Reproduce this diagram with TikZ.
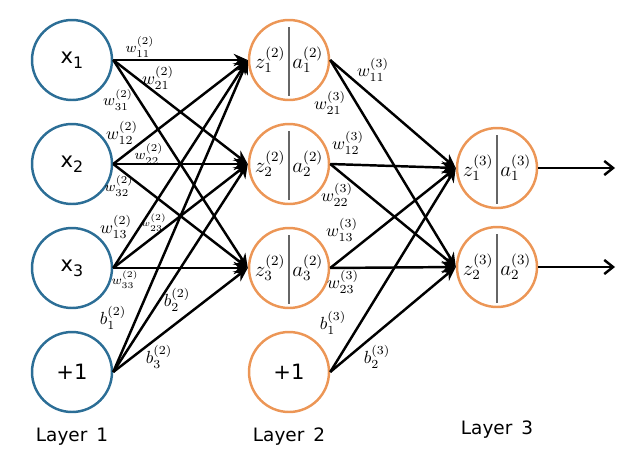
\documentclass[tikz,border=0pt]{standalone}
\usepackage{fontspec}
\setmainfont{DejaVu Sans}
\usetikzlibrary{arrows.meta,calc}

\definecolor{inblue}{RGB}{44,110,150}
\definecolor{hidorange}{RGB}{236,150,86}
\newcommand{\lowsub}[1]{\raisebox{-0.45ex}{\small #1}}

\begin{document}
\begin{tikzpicture}[
  x=0.02cm, y=-0.02cm,
  >={Stealth[length=8pt,width=7pt]},
  unit/.style={draw, circle, line width=1.4pt, minimum size=1.6cm, inner sep=0pt, font=\large},
  inunit/.style={unit, draw=inblue},
  hidunit/.style={unit, draw=hidorange},
  wire/.style={->, line width=1.4pt},
  outwire/.style={-{Straight Barb[length=5pt,width=8pt]}, line width=1.4pt},
  divider/.style={draw=black!60, line width=0.9pt},
  lab/.style={inner sep=0pt},
  layername/.style={font=\fontsize{10.5}{12}\selectfont},
]
\useasboundingbox (0,0) rectangle (631,457);

% Layer 1: inputs and bias
\node[inunit] (x1) at (72, 60)  {x\lowsub{1}};
\node[inunit] (x2) at (72, 164) {x\lowsub{2}};
\node[inunit] (x3) at (72, 268) {x\lowsub{3}};
\node[inunit] (b1) at (72, 372) {+1};

% Layer 2: hidden units and bias
\node[hidunit] (z21) at (289, 60)  {$z^{(2)}_1$\hspace{4pt}$a^{(2)}_1$};
\node[hidunit] (z22) at (289, 164) {$z^{(2)}_2$\hspace{4pt}$a^{(2)}_2$};
\node[hidunit] (z23) at (289, 268) {$z^{(2)}_3$\hspace{4pt}$a^{(2)}_3$};
\node[hidunit] (b2)  at (289, 372) {+1};

% Layer 3: outputs
\node[hidunit] (z31) at (497, 168) {$z^{(3)}_1$\hspace{4pt}$a^{(3)}_1$};
\node[hidunit] (z32) at (497, 267) {$z^{(3)}_2$\hspace{4pt}$a^{(3)}_2$};

% Dividers between z and a
\foreach \n in {z21,z22,z23,z31,z32}
  \draw[divider] ($(\n)+(0,-33)$) -- ($(\n)+(0,36)$);

% Wires layer 1 -> layer 2
\foreach \s in {x1,x2,x3,b1}
  \foreach \t in {z21,z22,z23}
    \draw[wire] (\s.east) -- (\t.west);

% Wires layer 2 -> layer 3
\foreach \s in {z21,z22,z23,b2}
  \foreach \t in {z31,z32}
    \draw[wire] (\s.east) -- (\t.west);

% Outputs
\coordinate (y1) at (615, 168);
\coordinate (y2) at (615, 267);
\draw[outwire] (z31.east) -- (y1);
\draw[outwire] (z32.east) -- (y2);

% Weight labels, layer 2
\node[lab, font=\footnotesize]   (w211) at (140, 47)  {$w^{(2)}_{11}$};
\node[lab]                       (w221) at (158, 78)  {$w^{(2)}_{21}$};
\node[lab, font=\small]          (w231) at (118, 100) {$w^{(2)}_{31}$};
\node[lab]                       (w212) at (122, 133) {$w^{(2)}_{12}$};
\node[lab, font=\footnotesize]   (w222) at (149, 154) {$w^{(2)}_{22}$};
\node[lab, font=\footnotesize]   (w232) at (119, 186) {$w^{(2)}_{32}$};
\node[lab]                       (w213) at (116, 227) {$w^{(2)}_{13}$};
\node[lab, font=\tiny]           (w223) at (154, 223) {$w^{(2)}_{23}$};
\node[lab, font=\scriptsize]     (w233) at (125, 280) {$w^{(2)}_{33}$};
\node[lab]                       (bl21) at (113, 318) {$b^{(2)}_1$};
\node[lab]                       (bl22) at (177, 300) {$b^{(2)}_2$};
\node[lab]                       (bl23) at (159, 357) {$b^{(2)}_3$};

% Weight labels, layer 3
\node[lab] (w311) at (373, 70)  {$w^{(3)}_{11}$};
\node[lab] (w321) at (330, 103) {$w^{(3)}_{21}$};
\node[lab] (w312) at (348, 143) {$w^{(3)}_{12}$};
\node[lab] (w322) at (337, 195) {$w^{(3)}_{22}$};
\node[lab] (w313) at (342, 230) {$w^{(3)}_{13}$};
\node[lab] (w323) at (343, 282) {$w^{(3)}_{23}$};
\node[lab] (bl31) at (333, 323) {$b^{(3)}_1$};
\node[lab] (bl32) at (377, 357) {$b^{(3)}_2$};

% Layer names
\node[layername] (L1) at (72, 437)  {Layer\, 1};
\node[layername] (L2) at (289, 437) {Layer\, 2};
\node[layername] (L3) at (497, 430) {Layer\, 3};

\end{tikzpicture}
\end{document}
